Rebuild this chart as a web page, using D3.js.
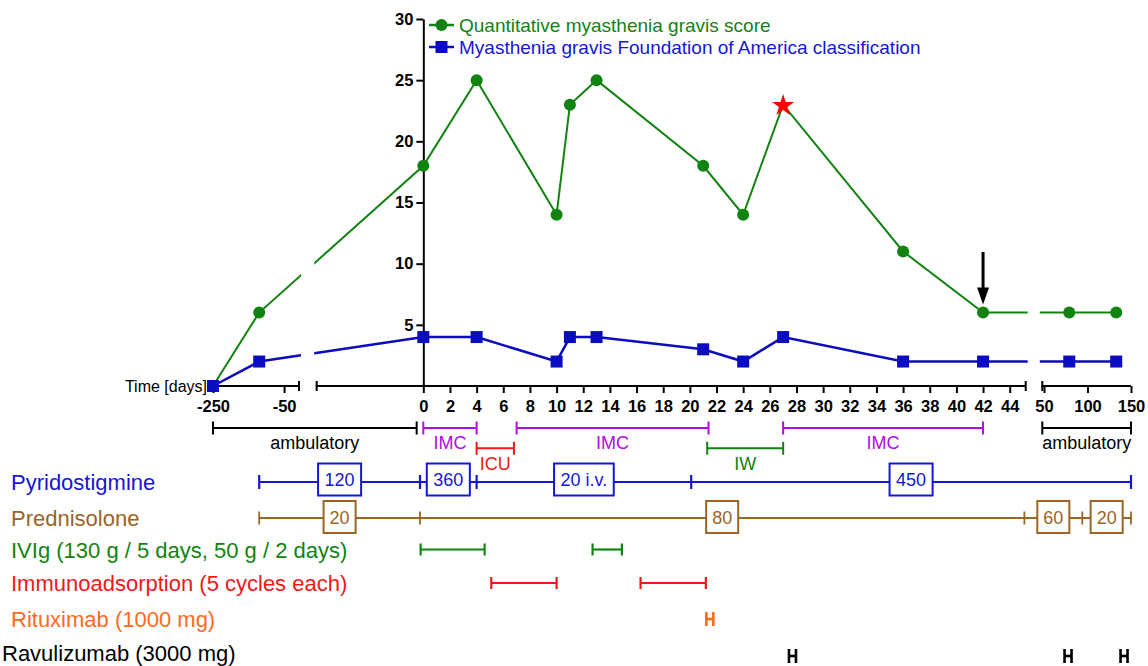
<!DOCTYPE html>
<html><head><meta charset="utf-8">
<script src="https://cdn.jsdelivr.net/npm/d3@7"></script>
<style>body{margin:0;background:#fff} text{font-family:"Liberation Sans",Arial,sans-serif}</style>
</head><body><svg id="c" width="1148" height="666"></svg>
<script>
// ---------- data ----------
const days = [-250, -120, 0, 4, 10, 11, 13, 21, 24, 27, 36, 42, 79, 133];
const qmg  = [0, 6, 18, 25, 14, 23, 25, 18, 14, 23, 11, 6, 6, 6];
const mgfa = [0, 2, 4, 4, 2, 4, 4, 3, 2, 4, 2, 2, 2, 2];
const starDay = 27;
const arrowDay = 42;
const yTicks = [5, 10, 15, 20, 25, 30];
const seg1Ticks = [-250, -50];
const seg2Ticks = [0, 2, 4, 6, 8, 10, 12, 14, 16, 18, 20, 22, 24, 26, 28, 30, 32, 34, 36, 38, 40, 42, 44];
const seg3Ticks = [50, 100, 150];
const segDomains = [[-250, -8], [-8, 45.2], [48, 150]];
const seriesNames = ["Quantitative myasthenia gravis score", "Myasthenia gravis Foundation of America classification"];

const periodLabels = ["ambulatory", "IMC", "ICU", "IMC", "IW", "IMC", "ambulatory"];
const periodStart  = [-250, 0, 4, 7, 21.3, 27, 48];
const periodEnd    = [-0.5, 4, 6.8, 21.4, 27, 42, 150];

const pyrBounds = [-120, -0.25, 4, 20.1, 150];
const pyrDoses  = ["120", "360", "20 i.v.", "450"];
const predBounds = [-120, -0.25, 45.1, 94, 150];
const predDoses  = ["20", "80", "60", "20"];
const ivigStart = [-0.2, 12.7];
const ivigEnd   = [4.6, 14.9];
const iaStart = [5.1, 16.3];
const iaEnd   = [10, 21.2];
const rituxDays = [21.5];
const ravuDays = [27.7, 77.6, 142];
const rowLabels = ["Pyridostigmine", "Prednisolone", "IVIg (130 g / 5 days, 50 g / 2 days)",
  "Immunoadsorption (5 cycles each)", "Rituximab (1000 mg)", "Ravulizumab (3000 mg)"];

// ---------- styles ----------
const C = {green: "#118311", blue: "#0b0bc0", blueT: "#1616d6", purple: "#b10be6", red: "#f01818",
  brown: "#9b6524", orange: "#ff6a1a", black: "#000"};
const periodColor = {ambulatory: C.black, IMC: C.purple, ICU: C.red, IW: C.green};
const periodRowOf = {ambulatory: 0, IMC: 0, ICU: 1, IW: 1};
const rowColors = [C.blueT, C.brown, C.green, C.red, C.orange, C.black];
const rowY = [482, 518, 549.5, 583, 619, 656];
const rowTextY = [489.5, 525.5, 558, 591, 627, 660.5];
const rowTextX = [11, 11, 11, 11, 11, 2];

const svg = d3.select("#c");
svg.append("rect").attr("width", 1148).attr("height", 666).attr("fill", "#fff");

// ---------- scales (broken x axis) ----------
const segRanges = [[213, 299], [316.7, 1025.7], [1042.3, 1131]];
const xs = segDomains.map((d, i) => d3.scaleLinear().domain(d).range(segRanges[i]));
function x(v) { for (const s of xs) if (v <= s.domain()[1]) return s(v); return xs[2](v); }
const y = d3.scaleLinear().domain([0, 30]).range([386, 19]);
const axisY = y(0);

// clip for broken lines
const defs = svg.append("defs");
const cp = defs.append("clipPath").attr("id", "segclip");
segRanges.forEach((r, i) => {
  const x0 = i === 0 ? 0 : r[0] - 2.5;
  const x1 = i === 2 ? 1148 : r[1] + 2;
  cp.append("rect").attr("x", x0).attr("y", 0).attr("width", x1 - x0).attr("height", 666);
});

// ---------- x axis ----------
const segTicks = [seg1Ticks, seg2Ticks, seg3Ticks];
xs.forEach((s, i) => {
  const g = svg.append("g").attr("transform", `translate(0,${axisY})`)
    .call(d3.axisBottom(s).tickValues(segTicks[i]).tickSize(7).tickPadding(7).tickFormat(d => String(d)));
  g.select(".domain").remove();
  g.selectAll(".tick line").attr("stroke", "#000").attr("stroke-width", 2);
  g.selectAll(".tick text").attr("font-size", 16.5).attr("font-weight", "bold").attr("fill", "#000")
    .attr("font-family", '"Liberation Sans",Arial,sans-serif');
  const r = s.range();
  g.append("line").attr("x1", r[0] - 1).attr("x2", r[1]).attr("y1", 0).attr("y2", 0)
    .attr("stroke", "#000").attr("stroke-width", 2);
  const caps = [];
  if (i > 0) caps.push(r[0]);
  if (i < 2) caps.push(r[1]);
  caps.forEach(cx => g.append("line").attr("x1", cx).attr("x2", cx).attr("y1", -5).attr("y2", 5)
    .attr("stroke", "#000").attr("stroke-width", 2));
});
svg.append("text").attr("x", 207).attr("y", axisY + 5.5).attr("text-anchor", "end")
  .attr("font-size", 16).text("Time [days]");

// ---------- y axis ----------
const gy = svg.append("g").attr("transform", `translate(${x(0)},0)`)
  .call(d3.axisLeft(y).tickValues(yTicks).tickSize(7).tickSizeOuter(0).tickPadding(3));
gy.select(".domain").attr("stroke", "#000").attr("stroke-width", 2);
gy.selectAll(".tick line").attr("stroke", "#000").attr("stroke-width", 2);
gy.selectAll(".tick text").attr("font-size", 16.5).attr("font-weight", "bold").attr("fill", "#000")
  .attr("font-family", '"Liberation Sans",Arial,sans-serif');

// ---------- series ----------
const idx = days.map((d, i) => i);
const lineQ = d3.line().x(i => x(days[i])).y(i => y(qmg[i]));
const lineM = d3.line().x(i => x(days[i])).y(i => y(mgfa[i]));
svg.append("path").attr("d", lineQ(idx)).attr("fill", "none").attr("stroke", C.green)
  .attr("stroke-width", 2).attr("clip-path", "url(#segclip)");
svg.selectAll("circle.q").data(idx.filter(i => days[i] !== starDay)).enter().append("circle")
  .attr("cx", i => x(days[i])).attr("cy", i => y(qmg[i])).attr("r", 6).attr("fill", C.green);
const si = days.indexOf(starDay);
svg.append("path").attr("d", d3.symbol().type(d3.symbolStar).size(150)())
  .attr("transform", `translate(${x(days[si])},${y(qmg[si]) + 1})`).attr("fill", "#ff0000");
svg.append("path").attr("d", lineM(idx)).attr("fill", "none").attr("stroke", C.blue)
  .attr("stroke-width", 2.5).attr("clip-path", "url(#segclip)");
svg.selectAll("rect.m").data(idx).enter().append("rect")
  .attr("x", i => x(days[i]) - 6).attr("y", i => y(mgfa[i]) - 6).attr("width", 12).attr("height", 12)
  .attr("fill", C.blue);

// arrow
const ai = days.indexOf(arrowDay);
const ax = x(arrowDay), ay = y(qmg[ai]);
svg.append("line").attr("x1", ax).attr("x2", ax).attr("y1", 252).attr("y2", ay - 22)
  .attr("stroke", "#000").attr("stroke-width", 3);
svg.append("path").attr("d", `M${ax - 6},${ay - 25}L${ax + 6},${ay - 25}L${ax},${ay - 8}Z`).attr("fill", "#000");

// ---------- legend ----------
const lg = [{c: C.green, t: seriesNames[0], y: 25, tc: C.green, shape: "circle"},
            {c: C.blue, t: seriesNames[1], y: 47, tc: C.blueT, shape: "square"}];
lg.forEach(l => {
  svg.append("line").attr("x1", 429).attr("x2", 454).attr("y1", l.y).attr("y2", l.y)
    .attr("stroke", l.c).attr("stroke-width", 2.5);
  if (l.shape === "circle") svg.append("circle").attr("cx", 441.5).attr("cy", l.y).attr("r", 6).attr("fill", l.c);
  else svg.append("rect").attr("x", 435.5).attr("y", l.y - 6).attr("width", 12).attr("height", 12).attr("fill", l.c);
  svg.append("text").attr("x", 459).attr("y", l.y + 7).attr("font-size", 19).attr("fill", l.tc).text(l.t);
});

// ---------- periods ----------
const periodRowY = [428, 448.3];
const periodTextY = [448.5, 470];
function bracket(x0, x1, yy, color, h, sw) {
  const g = svg.append("g").attr("stroke", color).attr("stroke-width", sw).attr("fill", "none");
  g.append("line").attr("x1", x0).attr("x2", x1).attr("y1", yy).attr("y2", yy);
  g.append("line").attr("x1", x0).attr("x2", x0).attr("y1", yy - h).attr("y2", yy + h);
  g.append("line").attr("x1", x1).attr("x2", x1).attr("y1", yy - h).attr("y2", yy + h);
}
periodLabels.forEach((lab, i) => {
  const r = periodRowOf[lab];
  const x0 = x(periodStart[i]), x1 = x(periodEnd[i]);
  bracket(x0, x1, periodRowY[r], periodColor[lab], 6.5, 2);
  svg.append("text").attr("x", (x0 + x1) / 2).attr("y", periodTextY[r]).attr("text-anchor", "middle")
    .attr("font-size", 18).attr("fill", periodColor[lab]).text(lab);
});

// ---------- medication rows ----------
rowLabels.forEach((t, i) => {
  svg.append("text").attr("x", rowTextX[i]).attr("y", rowTextY[i]).attr("font-size", 22)
    .attr("fill", rowColors[i]).text(t);
});
function doseRow(bounds, doses, yy, color, sw, capH, pad, boxYOff) {
  const px = bounds.map(x);
  svg.append("line").attr("x1", px[0]).attr("x2", px[px.length - 1]).attr("y1", yy).attr("y2", yy)
    .attr("stroke", color).attr("stroke-width", sw);
  px.forEach(p => svg.append("line").attr("x1", p).attr("x2", p).attr("y1", yy - capH).attr("y2", yy + capH)
    .attr("stroke", color).attr("stroke-width", sw));
  doses.forEach((d, k) => {
    const cx = (px[k] + px[k + 1]) / 2;
    const cy = yy + boxYOff;
    const g = svg.append("g");
    const rect = g.append("rect").attr("fill", "#fff").attr("stroke", color).attr("stroke-width", 2);
    const tx = g.append("text").attr("x", cx).attr("y", cy + 6.5).attr("text-anchor", "middle")
      .attr("font-size", 18).attr("fill", color).text(d);
    const w = tx.node().getComputedTextLength() + 2 * pad;
    rect.attr("x", cx - w / 2).attr("y", cy - 16).attr("width", w).attr("height", 32);
  });
}
doseRow(pyrBounds, pyrDoses, rowY[0], C.blueT, 2.2, 7, 6.5, -2.5);
doseRow(predBounds, predDoses, rowY[1], C.brown, 1.8, 6.5, 6, -1);

function intervals(starts, ends, yy, color) {
  starts.forEach((s, k) => bracket(x(s), x(ends[k]), yy, color, 6, 2.2));
}
intervals(ivigStart, ivigEnd, rowY[2], C.green);
intervals(iaStart, iaEnd, rowY[3], C.red);
function hMarks(ds, yy, color) {
  ds.forEach(d => bracket(x(d) - 3.5, x(d) + 3.5, yy, color, 7, 2.6));
}
hMarks(rituxDays, rowY[4], C.orange);
hMarks(ravuDays, rowY[5], C.black);
</script></body></html>
